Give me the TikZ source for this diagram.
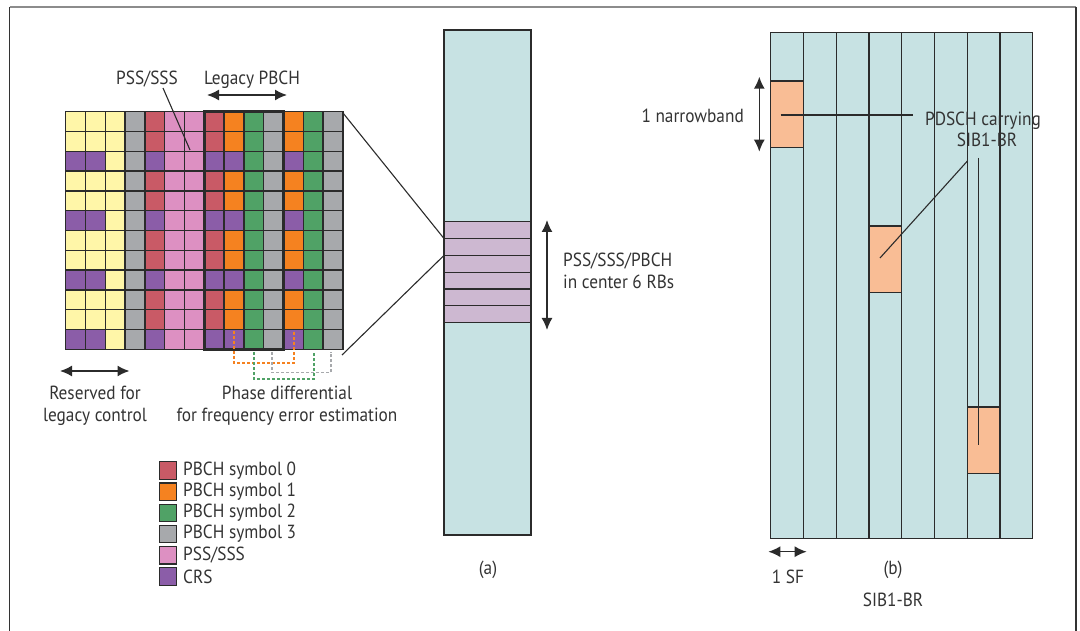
\documentclass[tikz,border=0pt]{standalone}
\usepackage{fontspec}
\setmainfont[FakeStretch=0.91]{PT Sans}
\usetikzlibrary{arrows.meta}
\definecolor{cyel}{HTML}{FFF6A8}
\definecolor{cgry}{HTML}{A7A9AC}
\definecolor{cred}{HTML}{C95A66}
\definecolor{cpnk}{HTML}{DD90C2}
\definecolor{corg}{HTML}{F58220}
\definecolor{cgrn}{HTML}{50A266}
\definecolor{cpur}{HTML}{8B5DA8}
\definecolor{ccyan}{HTML}{C7E2E3}
\definecolor{cband}{HTML}{CDB8D1}
\definecolor{cpeach}{HTML}{F9BD95}
\definecolor{cline}{HTML}{2B2B2B}
\definecolor{ctext}{HTML}{333333}
\begin{document}
\begin{tikzpicture}[x=1pt,y=-1pt,
  txt/.style={font=\fontsize{19}{21.7}\selectfont, text=ctext, inner sep=0pt},
  cell/.style={draw=cline, line width=1.3pt},
  arr/.style={{Latex[length=12pt,width=11pt]}-{Latex[length=12pt,width=11pt]}, line width=1.5pt, draw=cline},
  leg/.style={draw=cline, line width=1.2pt, minimum size=17.4pt, inner sep=0pt},
  pbox/.style={draw=cline, line width=1.3pt, fill=cpeach, minimum width=32.75pt, minimum height=66.3pt, inner sep=0pt},
  ptr/.style={draw=cline, line width=1.1pt},
  dsh/.style={line width=1.3pt, dash pattern=on 3pt off 2pt}]
\useasboundingbox (0,0) rectangle (1080,631);
% outer frame
\draw[line width=1.2pt, draw=black!80] (9.5,631) -- (9.5,7);
\draw[line width=1.2pt, draw=black!45] (9.5,7) -- (1076,7);
\draw[line width=1.2pt, draw=black!80] (1076,7) -- (1076,631);
% grid
\def\gx{65.7}\def\gy{111.7}\def\cw{19.8}
\foreach \c/\fc/\hascrs in {0/cyel/1,1/cyel/1,2/cyel/0,3/cgry/0,4/cred/1,5/cpnk/0,6/cpnk/0,7/cred/1,8/corg/1,9/cgrn/0,10/cgry/0,11/corg/1,12/cgrn/0,13/cgry/0}{
  \foreach \r in {0,...,11}{
    \pgfmathtruncatemacro\isc{and(\hascrs==1,mod(\r,3)==2)}
    \ifnum\isc=1 \def\cc{cpur}\else\let\cc\fc\fi
    \draw[cell, fill=\cc] (\gx+\c*\cw, \gy+\r*\cw) rectangle ++(\cw,\cw);
  }
}
\draw[line width=2.6pt, draw=cline] (\gx+7*\cw,\gy) rectangle (\gx+11*\cw,\gy+12*\cw);
\coordinate (gNE) at (343,113);
\coordinate (gSE) at (342,355);
% labels above grid
\node[txt] (pss) at (147,79) {PSS/SSS};
\coordinate (pssEnd) at (190,150);
\draw[ptr] (163,88) -- (pssEnd);
\node[txt] (legacy) at (252,80) {Legacy PBCH};
\coordinate (lgA) at (207,95);
\coordinate (lgB) at (287,95);
\draw[arr] (lgA) -- (lgB);
% phase differential dashed connectors
\coordinate (o1) at (234,331); \coordinate (o2) at (294,331);
\coordinate (g1) at (254,352); \coordinate (g2) at (314,352);
\coordinate (y1) at (272,352); \coordinate (y2) at (331,352);
\draw[dsh, draw=corg] (o1) -- (234,363) -- (294,363) -- (o2);
\draw[dsh, draw=cgrn] (g1) -- (254,379) -- (314,379) -- (g2);
\draw[dsh, draw=cgry] (y1) -- (272,372.7) -- (331,372.7) -- (y2);
\node[txt, align=center] (phase) at (287,406) {Phase differential\\for frequency error estimation};
% reserved
\coordinate (rsA) at (60,371);
\coordinate (rsB) at (129.5,371);
\draw[arr] (rsA) -- (rsB);
\node[txt, align=center] (resv) at (95,406) {Reserved for\\legacy control};
% legend
\foreach \i/\lc/\lt in {0/cred/{PBCH symbol 0},1/corg/{PBCH symbol 1},2/cgrn/{PBCH symbol 2},3/cgry/{PBCH symbol 3},4/cpnk/{PSS/SSS},5/cpur/{CRS}}{
  \node[leg, fill=\lc] (lgsq\i) at (168,470.5+\i*21.2) {};
  \node[txt, anchor=west] (lgtx\i) at (183,470.5+\i*21.2) {\lt};
}
% panel (a) column
\draw[cell, fill=ccyan] (444,30) rectangle (531,535);
\foreach \i in {0,...,5}{
  \draw[cell, fill=cband] (444,221.7+\i*16.83) rectangle ++(87,16.83);
}
\coordinate (cA) at (444,238.5);
\coordinate (cB) at (444,255.4);
\draw[ptr] (gNE) -- (cA);
\draw[ptr] (gSE) -- (cB);
\coordinate (rbA) at (547,220);
\coordinate (rbB) at (547,330);
\draw[arr] (rbA) -- (rbB);
\node[txt, anchor=west, align=left] (rbs) at (563,271) {PSS/SSS/PBCH\\in center 6 RBs};
\node[txt] (capa) at (488,570) {(a)};
% panel (b)
\def\bx{770.7}\def\bw{32.75}
\draw[cell, fill=ccyan] (\bx,32.7) rectangle (\bx+8*\bw,538.3);
\foreach \i in {1,...,7}{
  \draw[cell] (\bx+\i*\bw,32.7) -- (\bx+\i*\bw,538.3);
}
\node[pbox] (nb1) at (\bx+0.5*\bw,114.15) {};
\node[pbox] (nb2) at (\bx+3.5*\bw,259.15) {};
\node[pbox] (nb3) at (\bx+6.5*\bw,440) {};
\coordinate (nbA) at (759.3,76.7);
\coordinate (nbB) at (759.3,151.7);
\draw[arr] (nbA) -- (nbB);
\node[txt, anchor=east] (nbtx) at (744,116) {1 narrowband};
\node[txt, align=center] (pdsch) at (983,129.5) {PDSCH carrying\\\hspace*{8pt}SIB1-BR};
\coordinate (p1s) at (780.7,115);
\coordinate (p1e) at (913.3,115);
\draw[ptr] (p1s) -- (p1e);
\coordinate (p2s) at (967.7,160.7);
\coordinate (p2e) at (880,258);
\draw[ptr] (p2s) -- (p2e);
\coordinate (p3s) at (978.3,158);
\coordinate (p3e) at (978.3,445);
\draw[ptr] (p3s) -- (p3e);
\coordinate (sfA) at (768.3,551.7);
\coordinate (sfB) at (806.7,551.7);
\draw[arr] (sfA) -- (sfB);
\node[txt] (sf) at (788,577) {1 SF};
\node[txt] (capb) at (893,570) {(b)};
\node[txt] (sib) at (893,600) {SIB1-BR};
\end{tikzpicture}
\end{document}
